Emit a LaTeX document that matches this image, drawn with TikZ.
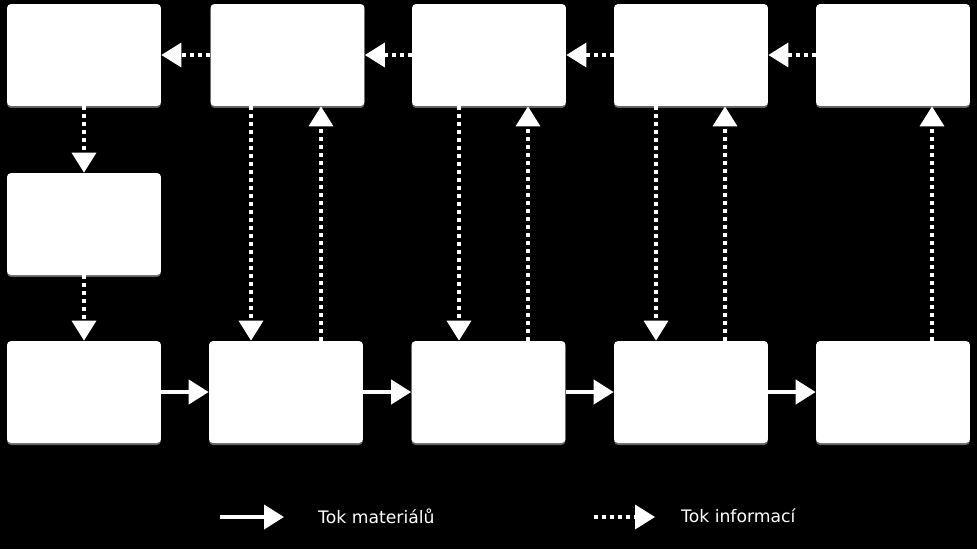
\documentclass[tikz,border=0pt]{standalone}
\usepackage{fontspec}
\setsansfont{DejaVu Sans}
\usetikzlibrary{arrows.meta, shadows}

\tikzset{
  stage/.style={fill=white, rounded corners=0.08cm, minimum width=3.08cm, minimum height=2.04cm,
    inner sep=0pt, drop shadow={shadow xshift=0pt, shadow yshift=-0.04cm, fill=gray!70, opacity=0.6}},
  matflow/.style={draw=white, line width=0.08cm, -{Triangle[length=0.4cm, width=0.48cm]}},
  infoflow/.style={matflow, line width=0.07cm, dash pattern=on 0.08cm off 0.08cm},
  legendtext/.style={text=white, anchor=west, font=\sffamily\fontsize{9.8}{11}\selectfont}
}

\begin{document}
\begin{tikzpicture}[x=0.02cm, y=-0.02cm]
  % background
  \fill[black] (0,0) rectangle (977,549);
  \useasboundingbox (0,0) rectangle (977,549);

  % top row
  \node[stage] (t1) at (84,55) {};
  \node[stage] (t2) at (287.5,55) {};
  \node[stage] (t3) at (489,55) {};
  \node[stage] (t4) at (691,55) {};
  \node[stage] (t5) at (893,55) {};

  % middle
  \node[stage] (m1) at (84,224) {};

  % bottom row
  \node[stage] (b1) at (84,392) {};
  \node[stage] (b2) at (286,392) {};
  \node[stage] (b3) at (488.5,392) {};
  \node[stage] (b4) at (691,392) {};
  \node[stage] (b5) at (893,392) {};

  % information flow, top row
  \draw[infoflow] (t2) -- (t1);
  \draw[infoflow] (t3) -- (t2);
  \draw[infoflow] (t4) -- (t3);
  \draw[infoflow] (t5) -- (t4);

  % information flow, left column
  \draw[infoflow] (t1) -- (m1);
  \draw[infoflow] (m1) -- (b1);

  % information flow, columns
  \draw[infoflow] ([xshift=-0.73cm]t2.south) -- ([xshift=-0.73cm]t2.south |- b2.north);
  \draw[infoflow] ([xshift=0.67cm]t2.south |- b2.north) -- ([xshift=0.67cm]t2.south);
  \draw[infoflow] ([xshift=-0.6cm]t3.south) -- ([xshift=-0.6cm]t3.south |- b3.north);
  \draw[infoflow] ([xshift=0.78cm]t3.south |- b3.north) -- ([xshift=0.78cm]t3.south);
  \draw[infoflow] ([xshift=-0.7cm]t4.south) -- ([xshift=-0.7cm]t4.south |- b4.north);
  \draw[infoflow] ([xshift=0.68cm]t4.south |- b4.north) -- ([xshift=0.68cm]t4.south);
  \draw[infoflow] ([xshift=0.78cm]t5.south |- b5.north) -- ([xshift=0.78cm]t5.south);

  % material flow, bottom row
  \draw[matflow] (b1) -- (b2);
  \draw[matflow] (b2) -- (b3);
  \draw[matflow] (b3) -- (b4);
  \draw[matflow] (b4) -- (b5);

  % legend
  \coordinate (lm1) at (220,517);
  \coordinate (lm2) at (284,517);
  \coordinate (li1) at (594,517);
  \coordinate (li2) at (655,517);
  \draw[matflow] (lm1) -- (lm2);
  \draw[infoflow] (li1) -- (li2);
  \node[legendtext] (lmat) at (312,516) {Tok materiálů};
  \node[legendtext] (linfo) at (675,516) {Tok informací};
\end{tikzpicture}
\end{document}
